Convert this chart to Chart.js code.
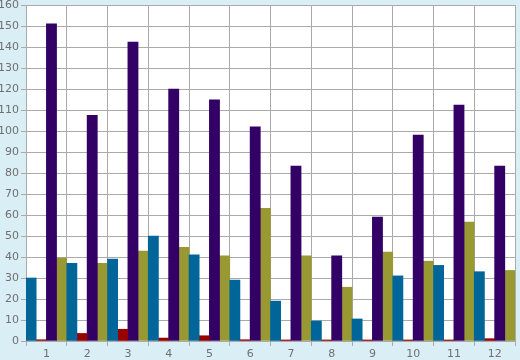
<!DOCTYPE html>
<html><head><meta charset="utf-8">
<script src="https://cdn.jsdelivr.net/npm/chart.js@4/dist/chart.umd.min.js"></script>
<style>html,body{margin:0;padding:0;background:#daeef5;}#wrap{width:520px;height:360px;}</style>
</head><body><div id="wrap"><canvas id="c" width="520" height="360"></canvas></div>
<script>
const categories = ['1','2','3','4','5','6','7','8','9','10','11','12'];
const seriesTeal   = [30, 37, 39, 50, 41, 29, 19, 9.5, 10.5, 31, 36, 33];
const seriesRed    = [0.6, 3.6, 5.6, 1.4, 2.5, 0.6, 0.5, 0.5, 0.5, 0.5, 0.5, 1.1];
const seriesPurple = [151, 107.5, 142.3, 120, 114.8, 102, 83.3, 40.5, 59, 98, 112.3, 83.3];
const seriesOlive  = [39.5, 37, 42.8, 44.6, 40.5, 63.2, 40.5, 25.6, 42.3, 38, 56.6, 33.6];
const yTicks = {min: 0, max: 160, step: 10};

const plotBg = {
  id: 'plotBg',
  beforeDraw(chart) {
    const {ctx, chartArea: a} = chart;
    ctx.save();
    ctx.fillStyle = '#ffffff';
    ctx.fillRect(a.left, a.top, a.right - a.left, a.bottom - a.top);
    ctx.restore();
  }
};
const mk = (d, c) => ({data: d, backgroundColor: c, borderWidth: 0, categoryPercentage: 1, barPercentage: 1});
new Chart(document.getElementById('c'), {
  type: 'bar',
  data: {
    labels: categories,
    datasets: [mk(seriesTeal, '#006699'), mk(seriesRed, '#990000'), mk(seriesPurple, '#330066'), mk(seriesOlive, '#999933')]
  },
  options: {
    responsive: false, animation: false,
    layout: {padding: {top: 5, right: 5, left: 0, bottom: 0}},
    plugins: {legend: {display: false}, tooltip: {enabled: false}},
    scales: {
      x: {
        grid: {color: '#aaaaaa', lineWidth: 1, tickLength: 5, offset: true},
        border: {color: '#aaaaaa'},
        ticks: {color: '#707070', font: {family: 'DejaVu Sans', size: 11}, padding: 2, maxRotation: 0},
        afterFit(s) { s.height = 19; s.paddingLeft = 0; s.paddingRight = 0; }
      },
      y: {
        min: yTicks.min, max: yTicks.max,
        grid: {color: '#aaaaaa', lineWidth: 1, tickLength: 5},
        border: {color: '#aaaaaa'},
        ticks: {stepSize: yTicks.step, color: '#707070', font: {family: 'DejaVu Sans', size: 11}, padding: 2},
        afterFit(s) { s.width = 26; s.paddingTop = 0; s.paddingBottom = 0; }
      }
    }
  },
  plugins: [plotBg]
});
</script></body></html>
